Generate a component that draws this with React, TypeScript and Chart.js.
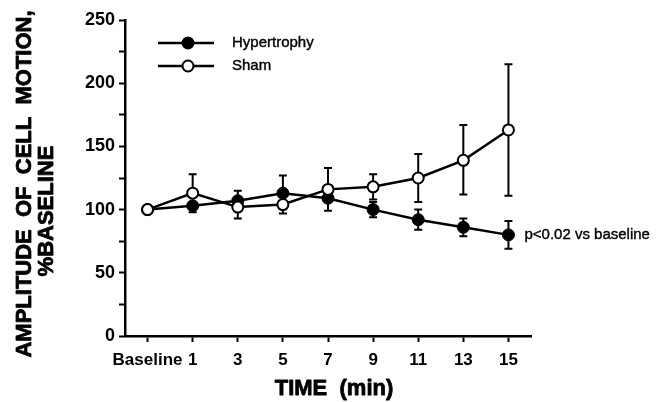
import React, { useEffect, useRef } from "react";
import { Chart, registerables } from "chart.js";

Chart.register(...registerables);

const timeLabels = ["Baseline", "1", "3", "5", "7", "9", "11", "13", "15"];
const hypertrophy = [100, 103, 107, 113, 109, 100, 92, 86, 80];
const hypErrUp = [0, 0, 8, 14, 0, 6, 8, 7, 11];
const hypErrDown = [0, 5, 0, 0, 10, 6, 8, 7, 11];
const sham = [100, 113, 102, 104, 116, 118, 125, 139, 163];
const shamErrUp = [0, 15, 0, 0, 17, 10, 19, 28, 52];
const shamErrDown = [0, 0, 9, 7, 0, 10, 19, 27, 52];

const seriesNames = ["Hypertrophy", "Sham"];
const yTitleLines = ["AMPLITUDE  OF  CELL  MOTION,", "%BASELINE"];
const xTitle = "TIME  (min)";
const annotation = "p<0.02 vs baseline";

const FONT = "'Liberation Sans', Arial, Helvetica, sans-serif";

function heavyText(ctx: any, text: string, x: number, y: number, w: number) {
  ctx.fillText(text, x, y);
  ctx.lineWidth = w;
  ctx.lineJoin = "round";
  ctx.strokeText(text, x, y);
}

const errorBarPlugin = {
  id: "errorBars",
  beforeDatasetsDraw(chart: any) {
    const ctx = chart.ctx;
    const x = chart.scales.x;
    const y = chart.scales.y;
    const sets = [
      { vals: hypertrophy, up: hypErrUp, down: hypErrDown },
      { vals: sham, up: shamErrUp, down: shamErrDown },
    ];
    ctx.save();
    ctx.strokeStyle = "#000";
    ctx.lineWidth = 2;
    const cap = 4;
    sets.forEach((s) => {
      s.vals.forEach((v, i) => {
        const px = x.getPixelForValue(i);
        const py = y.getPixelForValue(v);
        if (s.up[i] > 0) {
          const t = y.getPixelForValue(v + s.up[i]);
          ctx.beginPath();
          ctx.moveTo(px, py);
          ctx.lineTo(px, t);
          ctx.moveTo(px - cap, t);
          ctx.lineTo(px + cap, t);
          ctx.stroke();
        }
        if (s.down[i] > 0) {
          const b = y.getPixelForValue(v - s.down[i]);
          ctx.beginPath();
          ctx.moveTo(px, py);
          ctx.lineTo(px, b);
          ctx.moveTo(px - cap, b);
          ctx.lineTo(px + cap, b);
          ctx.stroke();
        }
      });
    });
    ctx.restore();
  },
  afterDraw(chart: any) {
    const ctx = chart.ctx;
    const x = chart.scales.x;
    const y = chart.scales.y;
    ctx.save();
    ctx.fillStyle = "#000";
    ctx.strokeStyle = "#000";

    // legend
    const rows = [
      { name: seriesNames[0], filled: true, y: 43 },
      { name: seriesNames[1], filled: false, y: 66 },
    ];
    rows.forEach((r) => {
      ctx.lineWidth = 2.5;
      ctx.beginPath();
      ctx.moveTo(158, r.y);
      ctx.lineTo(214, r.y);
      ctx.stroke();
      ctx.beginPath();
      ctx.arc(188, r.y, 5.5, 0, Math.PI * 2);
      ctx.fillStyle = r.filled ? "#000" : "#fff";
      ctx.fill();
      ctx.lineWidth = 2;
      ctx.stroke();
      ctx.fillStyle = "#000";
      ctx.font = `15px ${FONT}`;
      ctx.textAlign = "left";
      ctx.textBaseline = "middle";
      heavyText(ctx, r.name, 232, r.y, 0.4);
    });

    // annotation next to last hypertrophy point
    const last = hypertrophy.length - 1;
    ctx.font = `15px ${FONT}`;
    ctx.textAlign = "left";
    ctx.textBaseline = "middle";
    heavyText(ctx, annotation, x.getPixelForValue(last) + 16, y.getPixelForValue(hypertrophy[last]), 0.4);

    // x title
    ctx.font = `bold 22px ${FONT}`;
    ctx.textAlign = "center";
    ctx.textBaseline = "middle";
    heavyText(ctx, xTitle, 334, 389, 0.8);

    // y title (two rotated lines)
    ctx.font = `bold 22px ${FONT}`;
    ctx.save();
    ctx.translate(25, 184);
    ctx.rotate(-Math.PI / 2);
    heavyText(ctx, yTitleLines[0], 0, 0, 0.8);
    ctx.restore();
    ctx.save();
    ctx.translate(47, 211);
    ctx.rotate(-Math.PI / 2);
    heavyText(ctx, yTitleLines[1], 0, 0, 0.8);
    ctx.restore();

    ctx.restore();
  },
};

export default function App() {
  const canvasRef = useRef<HTMLCanvasElement | null>(null);

  useEffect(() => {
    const canvas = canvasRef.current;
    if (!canvas) return;
    const chart = new Chart(canvas, {
      type: "line",
      data: {
        labels: timeLabels,
        datasets: [
          {
            label: seriesNames[0],
            data: hypertrophy,
            borderColor: "#000",
            borderWidth: 2.5,
            backgroundColor: "#000",
            pointBackgroundColor: "#000",
            pointBorderColor: "#000",
            pointBorderWidth: 1,
            pointRadius: 6,
            tension: 0,
            order: 1,
          },
          {
            label: seriesNames[1],
            data: sham,
            borderColor: "#000",
            borderWidth: 2.5,
            backgroundColor: "#fff",
            pointBackgroundColor: "#fff",
            pointBorderColor: "#000",
            pointBorderWidth: 2,
            pointRadius: 5.5,
            tension: 0,
            order: 0,
          },
        ],
      },
      options: {
        responsive: false,
        animation: false,
        events: [],
        layout: { padding: { left: 0, right: 137, top: 20, bottom: 0 } },
        plugins: {
          legend: { display: false },
          tooltip: { enabled: false },
          title: { display: false },
        },
        scales: {
          x: {
            type: "category",
            offset: true,
            grid: {
              display: true,
              drawOnChartArea: false,
              drawTicks: true,
              tickLength: 6,
              tickColor: "#000",
              tickWidth: 2,
              offset: false,
            },
            border: { display: true, color: "#000", width: 2.5 },
            ticks: {
              color: "#000",
              font: { family: FONT, size: 17, weight: "bold" },
              padding: 8,
              maxRotation: 0,
              autoSkip: false,
            },
            afterFit(scale: any) {
              scale.height = 66;
            },
          },
          y: {
            type: "linear",
            min: 0,
            max: 250,
            grid: {
              display: true,
              drawOnChartArea: false,
              drawTicks: true,
              tickLength: 6,
              tickColor: "#000",
              tickWidth: 2,
            },
            border: { display: true, color: "#000", width: 2.5 },
            ticks: {
              stepSize: 25,
              color: "#000",
              font: { family: FONT, size: 18, weight: "bold" },
              padding: 4,
              callback: (v: any) => (Number(v) % 50 === 0 ? String(v) : ""),
            },
            afterFit(scale: any) {
              scale.width = 125;
            },
          },
        },
      },
      plugins: [errorBarPlugin],
    });
    return () => chart.destroy();
  }, []);

  return (
    <div style={{ position: "absolute", left: 0, top: 0, width: 668, height: 402, background: "#fff" }}>
      <canvas ref={canvasRef} width={668} height={402} />
    </div>
  );
}
